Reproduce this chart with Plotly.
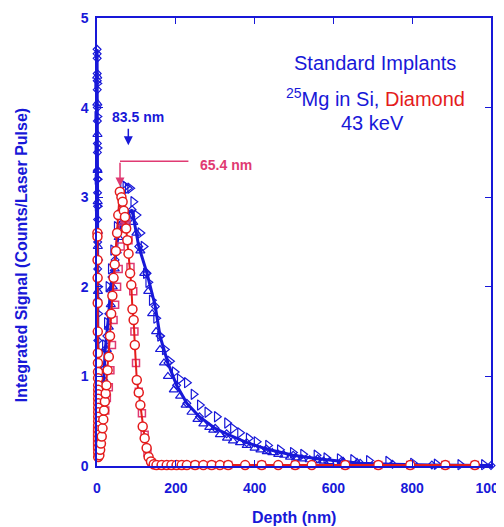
import plotly.graph_objects as go

BLUE = "#1818d8"
RED = "#e41c1c"
PINK = "#e03a72"

# --- Mg in Si: fitted curve with diamond data points ---
si_depth = [0.2, 0.3, 0.4, 0.5, 0.6, 0.7, 0.8, 0.9, 1.0, 1.1, 1.2, 1.3, 1.4, 1.5, 1.6, 1.7, 1.8, 1.9, 2.0,
            5, 9, 13, 17, 21, 25, 30, 34, 38, 46, 55, 63, 75, 89, 106, 127, 148, 160, 180, 202, 228, 260,
            300, 329, 380, 430, 498, 560, 620, 668, 750, 850, 1000]
si_signal = [4.65, 4.6, 4.55, 4.38, 4.3, 4.2, 4.0, 3.85, 3.6, 3.5, 3.3, 3.2, 3.05, 2.9, 2.75, 2.5, 2.2, 1.85, 1.4,
             0.95, 0.8, 0.77, 0.96, 1.3, 1.45, 1.7, 1.96, 2.11, 2.3, 2.63, 2.71, 2.8, 2.86, 2.45, 2.15, 1.78,
             1.45, 1.15, 0.9, 0.7, 0.55, 0.42, 0.36, 0.26, 0.19, 0.12, 0.08, 0.05, 0.03, 0.02, 0.01, 0.005]

# --- Mg in Si: run A (open right triangles) ---
sia_depth = [0.5, 0.8, 1.1, 1.4, 1.7, 2.0, 2.3, 2.6, 2.9, 10, 15, 20, 25, 29, 35, 41, 50, 57, 62, 66, 72, 78,
             84, 92, 100, 110, 118, 124, 130, 139, 150, 160, 172, 185, 197, 210, 228, 245, 261, 280, 304,
             330, 345, 363, 385, 405, 434, 464, 497, 523, 557, 582, 616, 650, 690, 739, 802, 862, 922, 982]
sia_signal = [4.27, 3.9, 3.55, 3.2, 2.9, 2.6, 2.3, 2.0, 1.7, 0.9, 1.1, 1.35, 1.6, 2.0, 2.2, 2.41, 2.67, 2.8,
              2.95, 3.14, 3.12, 3.1, 3.1, 2.95, 2.8, 2.6, 2.45, 2.15, 2.05, 1.85, 1.65, 1.45, 1.3, 1.17, 1.05,
              0.97, 0.93, 0.8, 0.68, 0.6, 0.55, 0.48, 0.42, 0.37, 0.31, 0.27, 0.23, 0.18, 0.15, 0.13, 0.12,
              0.09, 0.08, 0.07, 0.06, 0.05, 0.03, 0.02, 0.015, 0.015]

# --- Mg in Si: run B (open up triangles) ---
sib_depth = [0.6, 0.9, 1.2, 1.5, 1.8, 2.1, 2.4, 10, 15, 20, 25, 30, 35, 40, 45, 50, 55, 60, 65, 70, 78, 85,
             92, 100, 110, 120, 130, 140, 150, 160, 170, 180, 195, 211, 225, 240, 255, 270, 285, 295, 312,
             330, 345, 363, 380, 400, 415, 431, 445, 460, 475, 490, 505, 520, 540, 557, 575, 590, 625, 660]
sib_signal = [4.35, 4.05, 3.7, 3.3, 2.95, 2.45, 1.95, 0.8, 0.9, 1.1, 1.3, 1.55, 1.8, 2.0, 2.2, 2.4, 2.55,
              2.65, 2.72, 2.75, 2.78, 2.8, 2.72, 2.6, 2.4, 2.15, 1.95, 1.7, 1.5, 1.3, 1.15, 1.0, 0.85, 0.78,
              0.68, 0.6, 0.52, 0.47, 0.43, 0.4, 0.35, 0.31, 0.28, 0.26, 0.23, 0.2, 0.18, 0.16, 0.15, 0.13,
              0.12, 0.1, 0.09, 0.08, 0.07, 0.06, 0.055, 0.05, 0.05, 0.04]

# --- Mg in Diamond: main run (open circles with line) ---
dia_depth = [1.0, 1.2, 1.4, 1.6, 1.8, 2.0, 2.2, 2.4, 2.6, 2.8, 3.0, 3.0, 3.0, 3.0, 3.0, 3.0, 3.0, 3.0, 3.0,
             3.0, 3.0, 3.0, 3.0, 3.0, 3.0, 3.0, 3.0,
             6, 8, 10, 12, 14, 16, 18, 20, 22, 24, 27, 30, 33, 36, 39, 42, 45, 48, 51, 54, 58, 62, 65, 68,
             71, 74, 77, 80, 84, 87, 90, 93, 96, 101, 106, 110, 116, 121, 126, 131, 137, 144,
             151, 164, 177, 189, 202, 215, 228, 249, 270, 291, 312, 333, 376, 418, 460, 503, 545, 630,
             714, 795, 884, 959]
dia_signal = [2.6, 2.56, 2.3, 2.1, 1.82, 1.5, 1.26, 1.15, 1.05, 0.98, 0.9, 0.85, 0.8, 0.75, 0.7, 0.65, 0.6,
              0.55, 0.5, 0.45, 0.4, 0.35, 0.3, 0.25, 0.2, 0.15, 0.1,
              0.12, 0.18, 0.25, 0.33, 0.42, 0.52, 0.62, 0.72, 0.81, 0.9, 1.07, 1.22, 1.45, 1.7, 1.9, 2.1,
              2.25, 2.4, 2.6, 2.8, 3.06, 3.0, 2.95, 2.85, 2.78, 2.65, 2.52, 2.37, 2.15, 2.02, 1.75, 1.63,
              1.35, 0.96, 0.82, 0.68, 0.44, 0.31, 0.2, 0.1, 0.05, 0.02,
              0.01, 0.01, 0.01, 0.01, 0.01, 0.01, 0.01, 0.01, 0.01, 0.01, 0.01, 0.01, 0.01, 0.01, 0.01,
              0.01, 0.01, 0.01, 0.01, 0.01, 0.01, 0.01]

# --- Mg in Diamond: second run (open squares) ---
dib_depth = [0.5, 0.5, 0.5, 0.5, 0.5, 0.5, 21, 25, 30, 34, 38, 42, 46, 51, 55, 60, 65, 70, 75, 80, 85, 92,
             95, 99, 106, 114, 121, 128, 138, 150, 164, 189, 215, 249, 291, 333, 418, 503, 630, 714, 795,
             884, 959]
dib_signal = [0.42, 0.38, 0.34, 0.3, 0.26, 0.22, 0.62, 0.76, 0.88, 1.07, 1.35, 1.63, 1.8, 2.0, 2.2, 2.45,
              2.65, 2.75, 2.7, 2.52, 2.22, 1.95, 1.5, 1.15, 0.83, 0.59, 0.35, 0.15, 0.04, 0.01, 0.01, 0.01,
              0.01, 0.01, 0.01, 0.01, 0.01, 0.01, 0.01, 0.01, 0.01, 0.01, 0.01]

x_ticks = [0, 200, 400, 600, 800, 1000]
y_ticks = [0, 1, 2, 3, 4, 5]

fig = go.Figure()

fig.add_trace(go.Scatter(x=sia_depth, y=sia_signal, mode="markers", cliponaxis=False,
                         marker=dict(symbol="triangle-right-open", size=9, color=BLUE,
                                     line=dict(width=1.2, color=BLUE))))
fig.add_trace(go.Scatter(x=sib_depth, y=sib_signal, mode="markers", cliponaxis=False,
                         marker=dict(symbol="triangle-up-open", size=8, color=BLUE,
                                     line=dict(width=1.2, color=BLUE))))
fig.add_trace(go.Scatter(x=si_depth, y=si_signal, mode="lines+markers", cliponaxis=False,
                         line=dict(color=BLUE, width=3),
                         marker=dict(symbol="diamond-open", size=6, color=BLUE,
                                     line=dict(width=1.2, color=BLUE))))
fig.add_trace(go.Scatter(x=dib_depth, y=dib_signal, mode="markers", cliponaxis=False,
                         marker=dict(symbol="square-open", size=7, color=PINK,
                                     line=dict(width=1.5, color=PINK))))
fig.add_trace(go.Scatter(x=dia_depth, y=dia_signal, mode="lines+markers", cliponaxis=False,
                         line=dict(color=RED, width=2),
                         marker=dict(symbol="circle", size=9, color="white",
                                     line=dict(width=1.5, color=RED))))

# peak markers
fig.add_annotation(x=79.5, y=3.58, ax=79.5, ay=3.78, xref="x", yref="y", axref="x", ayref="y",
                   text="", showarrow=True, arrowhead=2, arrowsize=1.2, arrowwidth=1.5, arrowcolor=BLUE)
fig.add_annotation(x=105, y=3.89, xref="x", yref="y", text="<b>83.5 nm</b>", showarrow=False,
                   font=dict(family="Liberation Sans, Arial", size=14, color=BLUE))
fig.add_shape(type="line", x0=58.4, x1=232, y0=3.40, y1=3.40, xref="x", yref="y",
              line=dict(color=PINK, width=1.5))
fig.add_annotation(x=58.4, y=3.12, ax=58.4, ay=3.40, xref="x", yref="y", axref="x", ayref="y",
                   text="", showarrow=True, arrowhead=2, arrowsize=1.2, arrowwidth=1.5, arrowcolor=PINK)
fig.add_annotation(x=327, y=3.36, xref="x", yref="y", text="<b>65.4 nm</b>", showarrow=False,
                   font=dict(family="Liberation Sans, Arial", size=14, color=PINK))

# legend text block
TF = dict(family="Liberation Sans, Arial", size=20, color=BLUE)
fig.add_annotation(x=706, y=4.50, xref="x", yref="y", text="Standard Implants", showarrow=False, font=TF)
fig.add_annotation(x=706, y=4.11, xref="x", yref="y",
                   text="<sup>25</sup>Mg in Si, <span style='color:#e41c1c'>Diamond</span>",
                   showarrow=False, font=TF)
fig.add_annotation(x=700, y=3.83, xref="x", yref="y", text="43 keV", showarrow=False, font=TF)

# axis titles
fig.add_annotation(x=0.5, y=-0.114, xref="paper", yref="paper", xanchor="center", yanchor="middle",
                   text="<b>Depth (nm)</b>", showarrow=False,
                   font=dict(family="Liberation Sans, Arial", size=16, color=BLUE))
fig.add_annotation(x=-0.19, y=0.471, xref="paper", yref="paper", xanchor="center", yanchor="middle",
                   text="<b>Integrated Signal (Counts/Laser Pulse)</b>", textangle=-90,
                   showarrow=False, font=dict(family="Liberation Sans, Arial", size=16, color=BLUE))

axis_common = dict(showgrid=False, zeroline=False, showline=True, linecolor=BLUE, linewidth=1.5,
                   ticks="inside", ticklen=6, tickcolor=BLUE, tickwidth=1, mirror="ticks",
                   automargin=False, ticklabeloverflow="allow",
                   tickfont=dict(family="Liberation Sans, Arial", size=14, color=BLUE, weight="bold"))

# page body has an 8px default margin, so the figure is sized/offset to compensate
fig.update_layout(
    width=496, height=519,
    margin=dict(l=89, r=13, t=10, b=61, autoexpand=False),
    paper_bgcolor="white", plot_bgcolor="white",
    showlegend=False,
    xaxis=dict(range=[0, 1000], tickvals=x_ticks, ticklabelstandoff=8, **axis_common),
    yaxis=dict(range=[0, 5], tickvals=y_ticks, ticklabelstandoff=4, **axis_common),
)

fig.write_html("out.html")
